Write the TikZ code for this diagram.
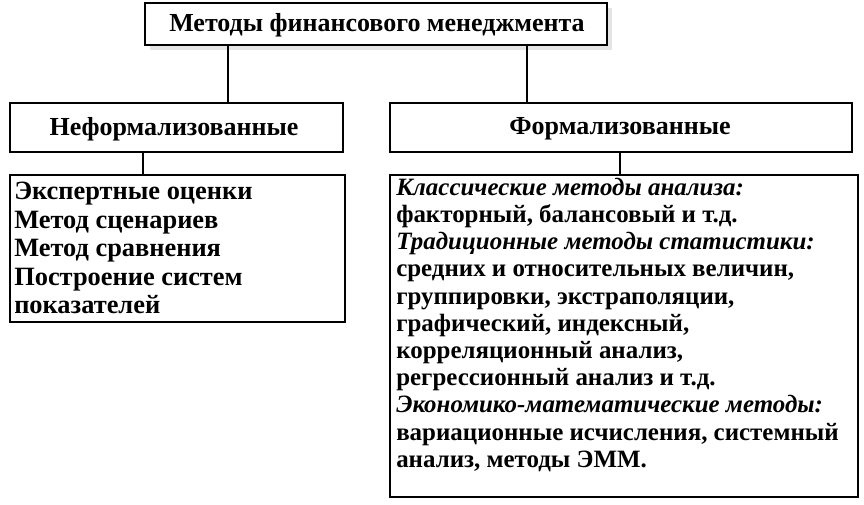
\documentclass[tikz,border=0pt]{standalone}
\usepackage{fontspec}
\setmainfont{Liberation Serif}
\usetikzlibrary{shadows}
\tikzset{
  box/.style={draw,thick,fill=white},
  line/.style={anchor=base west,inner sep=0pt,font=\fontsize{18.7}{20}\selectfont\bfseries},
  lline/.style={line,font=\fontsize{19.8}{22}\selectfont\bfseries},
  head/.style={font=\fontsize{19.5}{24}\selectfont\bfseries}
}
\begin{document}
\begin{tikzpicture}[x=0.75pt,y=-0.75pt]
	\useasboundingbox (0,0) rectangle (864,504);
	\draw[box,drop shadow={shadow xshift=4pt,shadow yshift=-4pt,fill=black!20}] (145,3) rectangle (607,45);
	\node[head] (top) at (377,25) {Методы финансового менеджмента};
	\coordinate (tl) at (228,45);
	\coordinate (tr) at (527,45);
	\draw[box] (10,103) rectangle (343,152);
	\node[head] (nf) at (174,129) {Неформализованные};
	\draw[box] (390,103) rectangle (852,152);
	\node[head] (f) at (620,129) {Формализованные};
	\draw[line width=2.2pt] (tl) -- (228,103);
	\draw[line width=2.2pt] (tr) -- (527,103);
	\draw[thick] (143,152) -- (143,175);
	\draw[thick] (620,152) -- (620,175);
	\draw[box] (10,175) rectangle (345,322);
	\draw[box] (390,175) rectangle (858,497);
	% left list
	\foreach \t [count=\i] in {Экспертные оценки,Метод сценариев,Метод сравнения,Построение систем,показателей}
		\node[lline] (l\i) at (14,171+28.5*\i) {\t};
	% right list
	\foreach \t [count=\i] in {\textit{Классические методы анализа:},
		{факторный, балансовый и т.д.},
		\textit{Традиционные методы статистики:},
		{средних и относительных величин,},
		{группировки, экстраполяции,},
		{графический, индексный,},
		{корреляционный анализ,},
		{регрессионный анализ и т.д.},
		\textit{Экономико-математические методы:},
		{вариационные исчисления, системный},
		{анализ, методы ЭММ.}}
		\node[line] (r\i) at (396,168+27.2*\i) {\t};
\end{tikzpicture}
\end{document}
